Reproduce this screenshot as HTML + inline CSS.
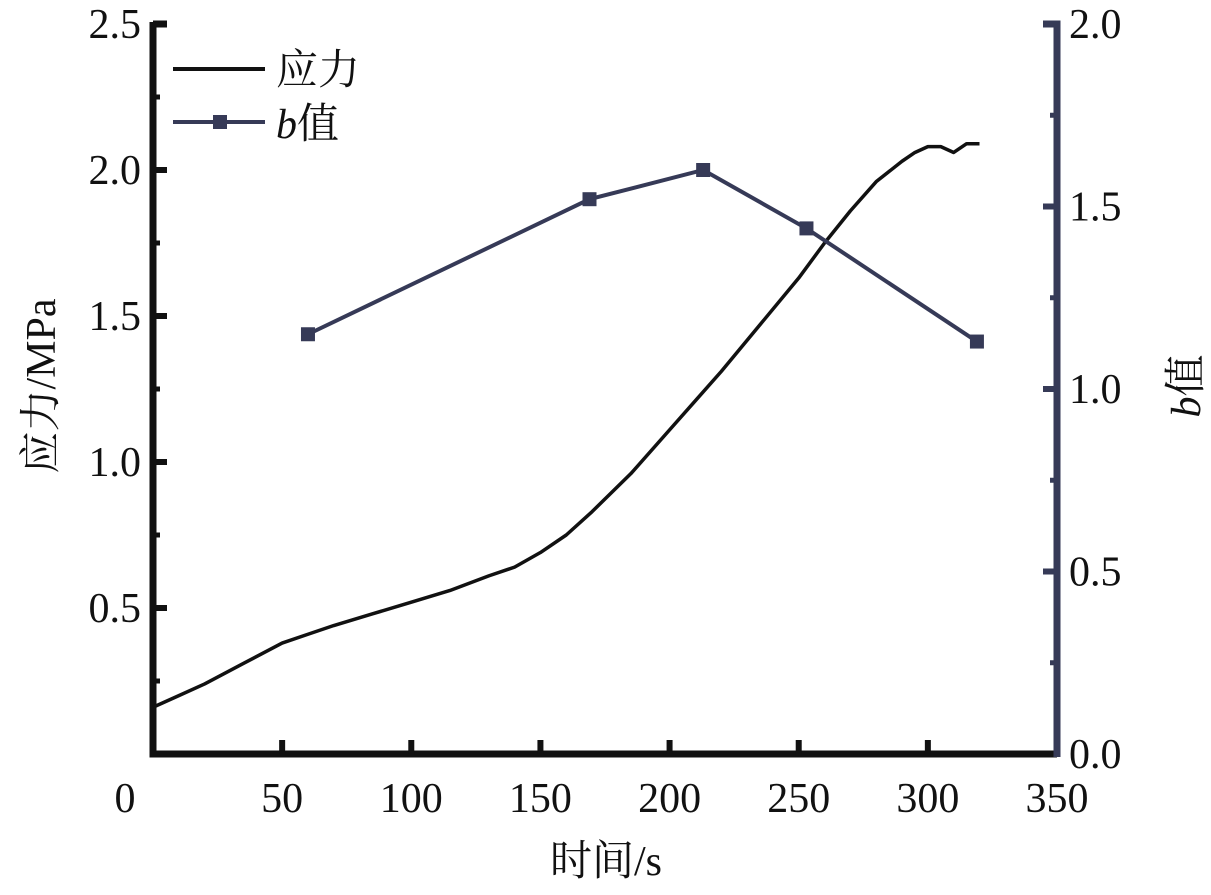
<!DOCTYPE html>
<html><head><meta charset="utf-8"><style>
body{margin:0;background:#fff}
svg text{font-family:"Liberation Serif","Noto Serif CJK SC",serif;font-size:42px;fill:#111}
</style></head><body>
<svg id="chart" width="1211" height="890" viewBox="0 0 1211 890" xmlns="http://www.w3.org/2000/svg">
<g id="axes"></g>
<g id="series"></g>
<g>
  <line x1="173" y1="69" x2="265" y2="69" stroke="#111" stroke-width="4"/>
  <text x="276" y="84" font-size="44">应力</text>
  <line x1="173" y1="122" x2="265" y2="122" stroke="#363a57" stroke-width="4"/>
  <rect x="213" y="115" width="14" height="14" fill="#363a57"/>
  <text x="276" y="138" font-size="44"><tspan font-style="italic">b</tspan>值</text>
</g>
<text x="606" y="875" text-anchor="middle" font-size="47">时间/s</text>
<text transform="translate(55,386) rotate(-90)" text-anchor="middle" font-size="47">应力/MPa</text>
<text transform="translate(1200,386) rotate(-90)" text-anchor="middle" font-size="47"><tspan font-style="italic">b</tspan>值</text>
</svg>
<script>
const xTicks=[0,50,100,150,200,250,300,350];
const yLeftTicks=[0.5,1.0,1.5,2.0,2.5];
const yRightTicks=[0.0,0.5,1.0,1.5,2.0];
const stressT=[0,10,20,35,50,60,70,85,100,115,130,140,150,160,170,185,200,210,220,235,250,260,270,280,290,295,300,305,310,315,320];
const stressV=[0.16,0.20,0.24,0.31,0.38,0.41,0.44,0.48,0.52,0.56,0.61,0.64,0.69,0.75,0.83,0.96,1.11,1.21,1.31,1.47,1.63,1.75,1.86,1.96,2.03,2.06,2.08,2.08,2.06,2.09,2.09];
const bT=[60,169,213,253,319];
const bV=[1.15,1.52,1.60,1.44,1.13];
const X0=153,X1=1057,Y0=754,Y1=24;
const sx=t=>X0+(t/350)*(X1-X0);
const syL=v=>Y0-(v/2.5)*(Y0-Y1);
const syR=v=>Y0-(v/2.0)*(Y0-Y1);
const NS="http://www.w3.org/2000/svg";
const axes=document.getElementById('axes'),series=document.getElementById('series');
function mk(tag,attrs,parent){const e=document.createElementNS(NS,tag);for(const k in attrs)e.setAttribute(k,attrs[k]);parent.appendChild(e);return e;}
let a=mk('path',{d:`M${X0},${Y1} H${X0+14} M${X0},${Y1-2} V${Y0} H${X1}`,stroke:'#111','stroke-width':7,fill:'none'},axes);


a=mk('path',{d:`M${X1-14},${Y1} H${X1} V${Y0+3}`,stroke:'#363a57','stroke-width':7,fill:'none'},axes);


xTicks.forEach((t,i)=>{
  const x=sx(t);
  if(i>0&&i<xTicks.length-1){const l=mk('line',{x1:x,y1:Y0,x2:x,y2:Y0-14,stroke:'#111','stroke-width':6},axes);
  
  }
  const tx=mk('text',{x:i===0?x-28:x,y:Y0+58,'text-anchor':'middle'},axes);tx.textContent=t;
  
  
});
yLeftTicks.forEach(v=>{
  const y=syL(v);
  const l=mk('line',{x1:X0,y1:y,x2:X0+14,y2:y,stroke:'#111','stroke-width':6},axes);
  
  
  const m=mk('line',{x1:X0,y1:syL(v-0.25),x2:X0+7,y2:syL(v-0.25),stroke:'#111','stroke-width':5},axes);
  
  
  const tx=mk('text',{x:X0-12,y:y+14,'text-anchor':'end'},axes);tx.textContent=v.toFixed(1);
  
  
});
yRightTicks.forEach((v,i)=>{
  const y=syR(v);
  if(i>0){const l=mk('line',{x1:X1,y1:y,x2:X1-14,y2:y,stroke:'#363a57','stroke-width':6},axes);
  
  }
  if(i<yRightTicks.length-1){const m=mk('line',{x1:X1,y1:syR(v+0.25),x2:X1-7,y2:syR(v+0.25),stroke:'#363a57','stroke-width':5},axes);
  
  }
  const tx=mk('text',{x:X1+12,y:y+14,'text-anchor':'start'},axes);tx.textContent=v.toFixed(1);
  
  
});
const sp=mk('polyline',{points:stressT.map((t,i)=>sx(t)+','+syL(stressV[i])).join(' '),fill:'none',stroke:'#111','stroke-width':3.5,'stroke-linejoin':'round'},series);


const bp=mk('polyline',{points:bT.map((t,i)=>sx(t)+','+syR(bV[i])).join(' '),fill:'none',stroke:'#363a57','stroke-width':4},series);


bT.forEach((t,i)=>{
  const r=mk('rect',{x:sx(t)-7,y:syR(bV[i])-7,width:14,height:14,fill:'#363a57'},series);
  
  
});
</script>
</body></html>
